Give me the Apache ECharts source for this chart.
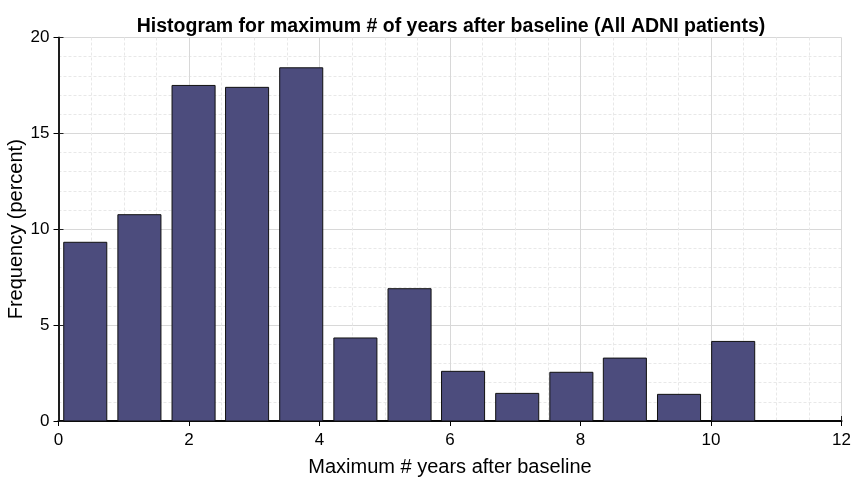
<!DOCTYPE html>
<html>
<head>
<meta charset="utf-8">
<script src="https://cdn.jsdelivr.net/npm/echarts@6/dist/echarts.min.js"></script>
<style>html,body{margin:0;padding:0;background:#fff}#c{width:856px;height:480px}</style>
</head>
<body>
<div id="c"></div>
<script>
// Bin centers (years) and frequencies (percent)
var binCenters = [0.41, 1.24, 2.07, 2.89, 3.72, 4.55, 5.38, 6.20, 7.03, 7.86, 8.68, 9.51, 10.34];
var frequencies = [9.32, 10.76, 17.50, 17.40, 18.42, 4.33, 6.90, 2.59, 1.44, 2.54, 3.28, 1.39, 4.15];
var barWidth = 0.66;
var titleText = 'Histogram for maximum # of years after baseline (All ADNI patients)';
var xName = 'Maximum # years after baseline';
var yName = 'Frequency (percent)';

var data = binCenters.map(function (c, i) { return [c, frequencies[i]]; });
var font = 'Liberation Sans, Arial, sans-serif';
var chart = echarts.init(document.getElementById('c'), null, {renderer: 'canvas'});
chart.setOption({
  animation: false,
  backgroundColor: '#fff',
  title: {
    text: titleText, left: 446, top: 12, textAlign: 'center',
    textStyle: {fontFamily: font, fontSize: 19.5, fontWeight: 'bold', color: '#000'}
  },
  grid: {left: 58.5, right: 14.5, top: 37.5, bottom: 59, containLabel: false, outerBoundsMode: 'none'},
  xAxis: [{
    type: 'value', min: 0, max: 12, interval: 2,
    name: xName, nameLocation: 'middle', nameGap: 36, nameMoveOverlap: false,
    nameTextStyle: {fontFamily: font, fontSize: 20, color: '#000'},
    axisLine: {show: true, lineStyle: {color: '#222', width: 2}},
    axisTick: {show: true, inside: true, length: 5, lineStyle: {color: '#222'}},
    axisLabel: {fontFamily: font, fontSize: 17, color: '#000', margin: 11},
    splitLine: {show: true, lineStyle: {color: '#d8d8d8', width: 1}},
    minorTick: {show: false, splitNumber: 4},
    minorSplitLine: {show: true, lineStyle: {color: '#e8e8e8', type: [3, 2]}}
  }, {
    type: 'value', min: 0, max: 12, interval: 2, position: 'top',
    axisLine: {show: true, lineStyle: {color: '#000', width: 1.5}},
    axisTick: {show: true, inside: true, length: 5, lineStyle: {color: '#000'}},
    axisLabel: {show: false}, splitLine: {show: false}
  }],
  yAxis: [{
    type: 'value', min: 0, max: 20, interval: 5,
    name: yName, nameLocation: 'middle', nameGap: 32, nameMoveOverlap: false,
    nameTextStyle: {fontFamily: font, fontSize: 20, color: '#000'},
    axisLine: {show: true, lineStyle: {color: '#777', width: 2}},
    axisTick: {show: true, inside: true, length: 5, lineStyle: {color: '#222'}},
    axisLabel: {fontFamily: font, fontSize: 17, color: '#000', margin: 9},
    splitLine: {show: true, lineStyle: {color: '#d8d8d8', width: 1}},
    minorTick: {show: false, splitNumber: 5},
    minorSplitLine: {show: true, lineStyle: {color: '#e8e8e8', type: [3, 2]}}
  }, {
    type: 'value', min: 0, max: 20, interval: 5, position: 'right',
    axisLine: {show: true, lineStyle: {color: '#000', width: 1.5}},
    axisTick: {show: true, inside: true, length: 5, lineStyle: {color: '#000'}},
    axisLabel: {show: false}, splitLine: {show: false}
  }],
  series: [{
    type: 'custom',
    data: data,
    encode: {x: 0, y: 1},
    renderItem: function (params, api) {
      var c = api.value(0), v = api.value(1);
      var p0 = api.coord([c - barWidth / 2, v]);
      var p1 = api.coord([c + barWidth / 2, 0]);
      return {
        type: 'rect',
        shape: {x: p0[0], y: p0[1], width: p1[0] - p0[0], height: p1[1] - p0[1]},
        style: {fill: '#4c4c7d', stroke: '#111', lineWidth: 1}
      };
    }
  }]
});
</script>
</body>
</html>
